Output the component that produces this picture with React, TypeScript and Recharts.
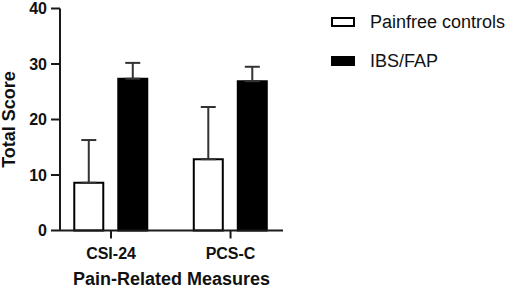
import { BarChart, Bar, XAxis, YAxis, ErrorBar, Legend } from "recharts";

const categories = ["CSI-24", "PCS-C"];
const painfree = [8.6, 12.85];
const painfreeSd = [7.7, 9.4];
const ibsFap = [27.35, 26.9];
const ibsFapSd = [2.85, 2.6];
const yTicks = [0, 10, 20, 30, 40];

const series = [
  { key: "painfree", err: "painfreeErr", name: "Painfree controls", fill: "#ffffff" },
  { key: "ibs", err: "ibsErr", name: "IBS/FAP", fill: "#000000" },
];

// categories sit on positions 0 and 1 of a numeric axis so the outer gaps can be narrower than a band scale allows
const data = categories.map((c, i) => ({
  pos: i,
  measure: c,
  painfree: painfree[i],
  painfreeErr: [0, painfreeSd[i]],
  ibs: ibsFap[i],
  ibsErr: [0, ibsFapSd[i]],
}));

const font = "'Liberation Sans', Arial, sans-serif";
const axisColor = "#1a1a1a";

function LegendBox() {
  return (
    <div style={{ fontFamily: font, fontSize: 18, color: "#111" }}>
      {series.map((s) => (
        <div key={s.key} style={{ display: "flex", alignItems: "center", height: 20, marginBottom: 19 }}>
          <svg width={24} height={10} style={{ marginRight: 15 }}>
            <rect x={1} y={1} width={22} height={8} fill={s.fill} stroke="#000" strokeWidth={2} />
          </svg>
          <span>{s.name}</span>
        </div>
      ))}
    </div>
  );
}

export default function App() {
  return (
    <div style={{ position: "absolute", left: 0, top: 0, background: "#fff" }}>
      <BarChart
        width={510}
        height={290}
        data={data}
        margin={{ top: 8.5, right: 227, left: 0, bottom: 0 }}
        barSize={29}
        barGap={15}
      >
        <XAxis
          dataKey="pos"
          type="number"
          domain={[-0.427, 1.439]}
          allowDataOverflow
          ticks={[0, 1]}
          interval={0}
          tickFormatter={(v: number) => categories[v] ?? ""}
          height={59.5}
          axisLine={{ stroke: axisColor, strokeWidth: 2 }}
          tickLine={{ stroke: axisColor, strokeWidth: 2 }}
          tickSize={8}
          tickMargin={9.5}
          tick={{ fill: "#111", fontSize: 16, fontWeight: 700, fontFamily: font }}
          label={{
            content: ({ viewBox }: any) => (
              <text
                x={viewBox.x + viewBox.width / 2}
                y={viewBox.y + 48.5}
                textAnchor="middle"
                dominantBaseline="central"
                fontFamily={font}
                fontSize={18}
                fontWeight={700}
                fill="#111"
              >
                Pain-Related Measures
              </text>
            ),
          }}
        />
        <YAxis
          width={60}
          domain={[0, 40]}
          ticks={yTicks}
          interval={0}
          axisLine={{ stroke: axisColor, strokeWidth: 2 }}
          tickLine={{ stroke: axisColor, strokeWidth: 2 }}
          tickSize={9}
          tickMargin={4}
          tick={{ fill: "#111", fontSize: 16, fontWeight: 700, fontFamily: font }}
          label={{
            content: ({ viewBox }: any) => {
              const cx = viewBox.x + 9;
              const cy = viewBox.y + viewBox.height / 2;
              return (
                <text
                  x={cx}
                  y={cy}
                  transform={`rotate(-90 ${cx} ${cy})`}
                  textAnchor="middle"
                  dominantBaseline="central"
                  fontFamily={font}
                  fontSize={18}
                  fontWeight={700}
                  fill="#111"
                >
                  Total Score
                </text>
              );
            },
          }}
        />
        <Legend
          layout="vertical"
          align="center"
          verticalAlign="middle"
          wrapperStyle={{ top: 12, left: 331, width: 175 }}
          content={() => <LegendBox />}
        />
        {series.map((s) => (
          <Bar key={s.key} dataKey={s.key} name={s.name} fill={s.fill} stroke="#000" strokeWidth={2} isAnimationActive={false}>
            <ErrorBar dataKey={s.err} width={7.5} stroke="#333" strokeWidth={2} direction="y" />
          </Bar>
        ))}
      </BarChart>
    </div>
  );
}
